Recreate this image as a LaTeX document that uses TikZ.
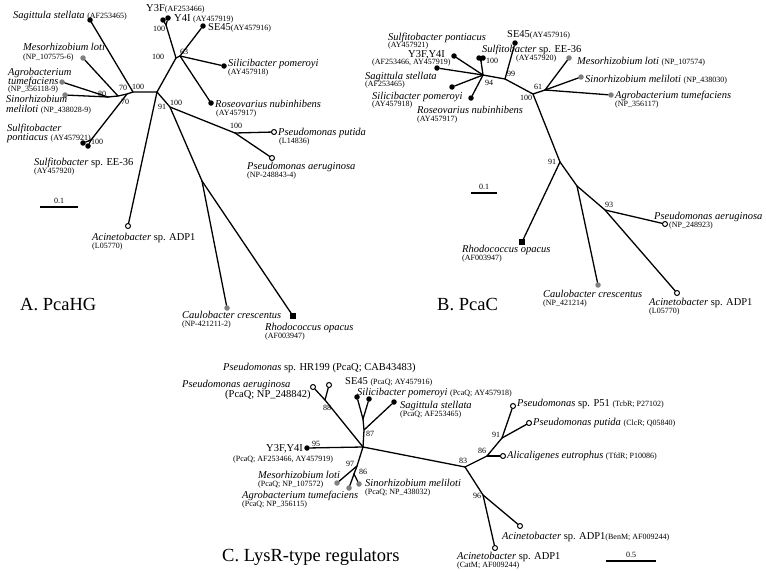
\documentclass[tikz,border=0pt]{standalone}
\usepackage{fontspec}
\setmainfont{Liberation Serif}
\newcommand{\acc}[1]{{\fontsize{8}{9}\selectfont #1}}
\tikzset{
  br/.style={line width=1.3pt, line cap=round},
  lab/.style={font=\fontsize{10.5}{12}\selectfont, inner sep=0pt, anchor=base west},
  sml/.style={font=\fontsize{8}{9}\selectfont, inner sep=0pt, anchor=base west},
  bs/.style={font=\fontsize{8}{9}\selectfont, inner sep=0pt},
  ttl/.style={font=\fontsize{18.5}{20}\selectfont, inner sep=0pt, anchor=base west},
  bdot/.style={circle, fill=black, inner sep=0pt, minimum size=5.5pt},
  gdot/.style={circle, fill=gray, inner sep=0pt, minimum size=5.5pt},
  odot/.style={circle, draw=black, fill=white, line width=1pt, inner sep=0pt, minimum size=5pt},
  sqr/.style={rectangle, fill=black, inner sep=0pt, minimum size=5.5pt},
}
\begin{document}
\begin{tikzpicture}[x=1pt,y=-1pt]
\useasboundingbox (0,0) rectangle (766,570);

% A. PcaHG
\node[bdot] (aSag) at (90,20) {};
\node[gdot] (aMes) at (83,58) {};
\node[gdot] (aAgr) at (62,82) {};
\node[gdot] (aSin) at (65,95) {};
\node[bdot] (aSpo) at (83,143) {};
\node[bdot] (aSee) at (88,146) {};
\node[odot] (aAci) at (128,226) {};
\node[bdot] (aY3F) at (163,20) {};
\node[bdot] (aY4I) at (168,18) {};
\node[bdot] (aSE) at (203,26) {};
\node[bdot] (aSil) at (224,66) {};
\node[bdot] (aRos) at (211,103) {};
\node[odot] (aPpu) at (274,132) {};
\node[odot] (aPae) at (272,158) {};
\node[gdot] (aCau) at (227,308) {};
\node[sqr] (aRho) at (293,316) {};
\coordinate (aHub) at (157,92);
\coordinate (aN100) at (133,92);
\coordinate (aN70) at (127,94);
\coordinate (aN70b) at (118,96);
\coordinate (aN80) at (108,97);
\coordinate (aNsul) at (91,140);
\coordinate (aNy) at (166,25);
\coordinate (aN100b) at (176,58);
\coordinate (aN63) at (180,56);
\coordinate (aN91) at (170,107);
\coordinate (aNp) at (235,133);
\coordinate (aNcr) at (202,181);
\draw[br] (aHub) -- (aN100) -- (aN70) -- (aN70b) -- (aN80);
\draw[br] (aN100) -- (aSag);
\draw[br] (aN70b) -- (aMes);
\draw[br] (aN80) -- (aAgr);
\draw[br] (aN80) -- (aSin);
\draw[br] (aN70) -- (aNsul);
\draw[br] (aNsul) -- (aSpo);
\draw[br] (aNsul) -- (aSee);
\draw[br] (aHub) -- (aAci);
\draw[br] (aHub) -- (aN100b) -- (aN63);
\draw[br] (aN100b) -- (aNy);
\draw[br] (aNy) -- (aY3F);
\draw[br] (aNy) -- (aY4I);
\draw[br] (aN63) -- (aSE);
\draw[br] (aN63) -- (aSil);
\draw[br] (aN63) -- (aRos);
\draw[br] (aHub) -- (aN91) -- (aNp);
\draw[br] (aNp) -- (aPpu);
\draw[br] (aNp) -- (aPae);
\draw[br] (aN91) -- (aNcr);
\draw[br] (aNcr) -- (aCau);
\draw[br] (aNcr) -- (aRho);
\node[bs] (aB80) at (102,94) {80};
\node[bs] (aB70) at (123,88) {70};
\node[bs] (aB100) at (138,87) {100};
\node[bs] (aB70b) at (125,102) {70};
\node[bs] (aB100s) at (97,142) {100};
\node[bs] (aB91) at (162,107) {91};
\node[bs] (aB100p) at (176,103) {100};
\node[bs] (aB100y) at (159,29) {100};
\node[bs] (aB100r) at (158,57) {100};
\node[bs] (aB63) at (184,52) {63};
\node[bs] (aB100pp) at (236,126) {100};
\node[lab] (aLSag) at (13,18) {\textit{Sagittula stellata} \acc{(AF253465)}};
\node[lab] (aLMes) at (23,50.5) {\textit{Mesorhizobium loti}};
\node[sml] (aLMes2) at (23,59) {(NP\_107575-6)};
\node[lab] (aLAgr) at (8,75) {\textit{Agrobacterium}};
\node[lab] (aLAgr2) at (8,84) {\textit{tumefaciens}};
\node[sml] (aLAgr3) at (8,91) {(NP\_356118-9)};
\node[lab] (aLSin) at (6,102.5) {\textit{Sinorhizobium}};
\node[lab] (aLSin2) at (6,112) {\textit{meliloti} \acc{(NP\_438028-9)}};
\node[lab] (aLSpo) at (7,131) {\textit{Sulfitobacter}};
\node[lab] (aLSpo2) at (7,140) {\textit{pontiacus} \acc{(AY457921)}};
\node[lab] (aLSee) at (34,165) {\textit{Sulfitobacter} sp. EE-36};
\node[sml] (aLSee2) at (34,173) {(AY457920)};
\node[lab] (aLY3F) at (146,11) {Y3F\acc{(AF253466)}};
\node[lab] (aLY4I) at (174,21) {Y4I \acc{(AY457919)}};
\node[lab] (aLSE) at (208,30) {SE45\acc{(AY457916)}};
\node[lab] (aLSil) at (228,66) {\textit{Silicibacter pomeroyi}};
\node[sml] (aLSil2) at (228,74) {(AY457918)};
\node[lab] (aLRos) at (215,107) {\textit{Roseovarius nubinhibens}};
\node[sml] (aLRos2) at (216,115) {(AY457917)};
\node[lab] (aLPpu) at (278,135) {\textit{Pseudomonas putida}};
\node[sml] (aLPpu2) at (279,143) {(L14836)};
\node[lab] (aLPae) at (247,169) {\textit{Pseudomonas aeruginosa}};
\node[sml] (aLPae2) at (247,177) {(NP-248843-4)};
\node[lab] (aLAci) at (92,240) {\textit{Acinetobacter} sp. ADP1};
\node[sml] (aLAci2) at (92,248) {(L05770)};
\node[lab] (aLCau) at (182,318) {\textit{Caulobacter crescentus}};
\node[sml] (aLCau2) at (182,326) {(NP-421211-2)};
\node[lab] (aLRho) at (265,330) {\textit{Rhodococcus opacus}};
\node[sml] (aLRho2) at (265,338) {(AF003947)};
\coordinate (aSc1) at (40,207);
\coordinate (aSc2) at (78,207);
\draw[line width=2pt] (aSc1) -- (aSc2);
\node[bs] (aScL) at (59,201) {0.1};
\node[ttl] (aTtl) at (20,310) {A. PcaHG};

% B. PcaC
\node[bdot] (bSpo) at (479,58) {};
\node[bdot] (bSee) at (483,58) {};
\node[bdot] (bY) at (454,56) {};
\node[bdot] (bSag) at (437,68) {};
\node[bdot] (bSil) at (452,87) {};
\node[bdot] (bRos) at (471,98) {};
\node[bdot] (bSE) at (515,43) {};
\node[gdot] (bMes) at (569,58) {};
\node[gdot] (bSin) at (581,77) {};
\node[gdot] (bAgr) at (611,95) {};
\node[sqr] (bRho) at (522,242) {};
\node[gdot] (bCau) at (598,285) {};
\node[odot] (bPae) at (665,224) {};
\node[odot] (bAci) at (677,293) {};
\coordinate (bNs) at (481,61);
\coordinate (bN94) at (483,75);
\coordinate (bN99) at (505,79);
\coordinate (bN100) at (533,94);
\coordinate (bN61) at (545,90);
\coordinate (bN91) at (560,162);
\coordinate (bNc) at (577,186);
\coordinate (bN93) at (605,210);
\draw[br] (bNs) -- (bSpo);
\draw[br] (bNs) -- (bSee);
\draw[br] (bN94) -- (bNs);
\draw[br] (bN94) -- (bY);
\draw[br] (bN94) -- (bSag);
\draw[br] (bN94) -- (bSil);
\draw[br] (bN94) -- (bRos);
\draw[br] (bN94) -- (bN99) -- (bN100) -- (bN61);
\draw[br] (bN99) -- (bSE);
\draw[br] (bN61) -- (bMes);
\draw[br] (bN61) -- (bSin);
\draw[br] (bN61) -- (bAgr);
\draw[br] (bN100) -- (bN91) -- (bNc) -- (bN93);
\draw[br] (bN91) -- (bRho);
\draw[br] (bNc) -- (bCau);
\draw[br] (bN93) -- (bPae);
\draw[br] (bN93) -- (bAci);
\node[bs] (bB100s) at (492,61) {100};
\node[bs] (bB94) at (489,83) {94};
\node[bs] (bB99) at (511,74) {99};
\node[bs] (bB61) at (538,87) {61};
\node[bs] (bB100) at (526,98) {100};
\node[bs] (bB91) at (552,162) {91};
\node[bs] (bB93) at (609,205) {93};
\node[lab] (bLSpo) at (388,40) {\textit{Sulfitobacter pontiacus}};
\node[sml] (bLSpo2) at (388,47) {(AY457921)};
\node[lab] (bLY) at (408,57.5) {Y3F,Y4I};
\node[sml] (bLY2) at (372,64.5) {(AF253466, AY457919)};
\node[lab] (bLSag) at (365,79) {\textit{Sagittula stellata}};
\node[sml] (bLSag2) at (365,86) {(AF253465)};
\node[lab] (bLSil) at (372,99) {\textit{Silicibacter pomeroyi}};
\node[sml] (bLSil2) at (372,106) {(AY457918)};
\node[lab] (bLRos) at (417,113) {\textit{Roseovarius nubinhibens}};
\node[sml] (bLRos2) at (417,121) {(AY457917)};
\node[lab] (bLSE) at (507,37.5) {SE45\acc{(AY457916)}};
\node[lab] (bLSee) at (482,52) {\textit{Sulfitobacter} sp. EE-36};
\node[sml] (bLSee2) at (516,60) {(AY457920)};
\node[lab] (bLMes) at (577,64) {\textit{Mesorhizobium loti} \acc{(NP\_107574)}};
\node[lab] (bLSin) at (585,82) {\textit{Sinorhizobium meliloti} \acc{(NP\_438030)}};
\node[lab] (bLAgr) at (615,98) {\textit{Agrobacterium tumefaciens}};
\node[sml] (bLAgr2) at (615,106) {(NP\_356117)};
\node[lab] (bLRho) at (462,252) {\textit{Rhodococcus opacus}};
\node[sml] (bLRho2) at (462,260) {(AF003947)};
\node[lab] (bLCau) at (543,297) {\textit{Caulobacter crescentus}};
\node[sml] (bLCau2) at (543,305) {(NP\_421214)};
\node[lab] (bLPae) at (654,219) {\textit{Pseudomonas aeruginosa}};
\node[sml] (bLPae2) at (669,227) {(NP\_248923)};
\node[lab] (bLAci) at (649,305) {\textit{Acinetobacter} sp. ADP1};
\node[sml] (bLAci2) at (649,313) {(L05770)};
\coordinate (bSc1) at (471,193);
\coordinate (bSc2) at (497,193);
\draw[line width=2pt] (bSc1) -- (bSc2);
\node[bs] (bScL) at (484,187) {0.1};
\node[ttl] (bTtl) at (437,310) {B. PcaC};

% C. LysR-type regulators
\node[odot] (cPae) at (313,387) {};
\node[odot] (cHR) at (329,385) {};
\node[bdot] (cSE) at (357,397) {};
\node[bdot] (cSil) at (369,399) {};
\node[bdot] (cSag) at (394,402) {};
\node[bdot] (cY) at (307,448) {};
\node[gdot] (cMes) at (337,483) {};
\node[gdot] (cAgr) at (349,488) {};
\node[gdot] (cSin) at (359,484) {};
\node[odot] (cP51) at (513,406) {};
\node[odot] (cPpu) at (529,423) {};
\node[odot] (cAli) at (503,456) {};
\node[odot] (cBen) at (520,526) {};
\node[odot] (cCat) at (495,548) {};
\coordinate (cN88) at (325,400);
\coordinate (cNse) at (363,419);
\coordinate (cN87) at (364,430);
\coordinate (cHub) at (363,447);
\coordinate (cN97) at (357,466);
\coordinate (cN86) at (354,474);
\coordinate (cN83) at (465,467);
\coordinate (cN86r) at (487,456);
\coordinate (cN91) at (502,438);
\coordinate (cN96) at (483,495);
\draw[br] (cN88) -- (cPae);
\draw[br] (cN88) -- (cHR);
\draw[br] (cHub) -- (cN88);
\draw[br] (cNse) -- (cSE);
\draw[br] (cNse) -- (cSil);
\draw[br] (cHub) -- (cN87) -- (cNse);
\draw[br] (cN87) -- (cSag);
\draw[br] (cHub) -- (cY);
\draw[br] (cHub) -- (cN97) -- (cN86);
\draw[br] (cN97) -- (cMes);
\draw[br] (cN86) -- (cAgr);
\draw[br] (cN86) -- (cSin);
\draw[br] (cHub) -- (cN83) -- (cN86r) -- (cN91);
\draw[br] (cN91) -- (cP51);
\draw[br] (cN91) -- (cPpu);
\draw[br] (cN86r) -- (cAli);
\draw[br] (cN83) -- (cN96);
\draw[br] (cN96) -- (cBen);
\draw[br] (cN96) -- (cCat);
\node[bs] (cB88) at (327,408) {88};
\node[bs] (cB87) at (370,434) {87};
\node[bs] (cB95) at (316,444) {95};
\node[bs] (cB97) at (350,464) {97};
\node[bs] (cB86) at (363,472) {86};
\node[bs] (cB83) at (463,461) {83};
\node[bs] (cB86r) at (482,451) {86};
\node[bs] (cB91) at (496,435) {91};
\node[bs] (cB96) at (477,496) {96};
\node[lab] (cLHR) at (223,370) {\textit{Pseudomonas} sp. HR199 (PcaQ; CAB43483)};
\node[lab] (cLPae) at (182,387) {\textit{Pseudomonas aeruginosa}};
\node[lab] (cLPae2) at (225,397) {(PcaQ; NP\_248842)};
\node[lab] (cLSE) at (345,384) {SE45 \acc{(PcaQ; AY457916)}};
\node[lab] (cLSil) at (357,395) {\textit{Silicibacter pomeroyi} \acc{(PcaQ; AY457918)}};
\node[lab] (cLSag) at (400,408) {\textit{Sagittula stellata}};
\node[sml] (cLSag2) at (400,416) {(PcaQ; AF253465)};
\node[lab] (cLY) at (266,451) {Y3F,Y4I};
\node[sml] (cLY2) at (233,461) {(PcaQ; AF253466, AY457919)};
\node[lab] (cLMes) at (258,478) {\textit{Mesorhizobium loti}};
\node[sml] (cLMes2) at (258,486) {(PcaQ; NP\_107572)};
\node[lab] (cLAgr) at (242,498) {\textit{Agrobacterium tumefaciens}};
\node[sml] (cLAgr2) at (242,506) {(PcaQ; NP\_356115)};
\node[lab] (cLSin) at (365,486) {\textit{Sinorhizobium meliloti}};
\node[sml] (cLSin2) at (365,494) {(PcaQ; NP\_438032)};
\node[lab] (cLP51) at (517,406) {\textit{Pseudomonas} sp. P51 \acc{(TcbR; P27102)}};
\node[lab] (cLPpu) at (533,425) {\textit{Pseudomonas putida} \acc{(ClcR; Q05840)}};
\node[lab] (cLAli) at (507,458) {\textit{Alicaligenes eutrophus} \acc{(TfdR; P10086)}};
\node[lab] (cLBen) at (502,539) {\textit{Acinetobacter} sp. ADP1\acc{(BenM; AF009244)}};
\node[lab] (cLCat) at (457,559) {\textit{Acinetobacter} sp. ADP1};
\node[sml] (cLCat2) at (457,567) {(CatM; AF009244)};
\coordinate (cSc1) at (606,561);
\coordinate (cSc2) at (656,561);
\draw[line width=2pt] (cSc1) -- (cSc2);
\node[bs] (cScL) at (631,555) {0.5};
\node[ttl] (cTtl) at (222,561) {C. LysR-type regulators};

\end{tikzpicture}
\end{document}
